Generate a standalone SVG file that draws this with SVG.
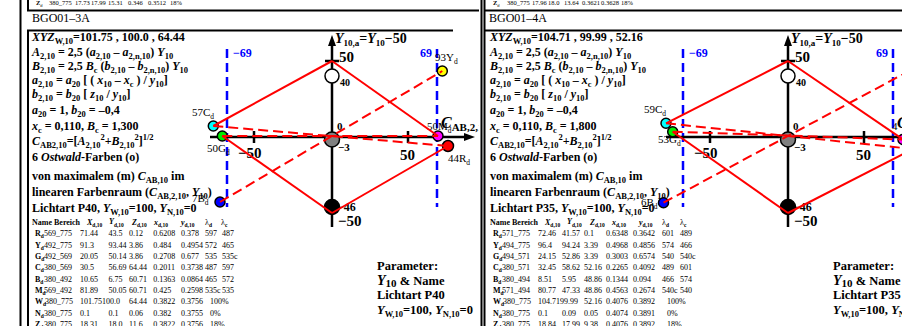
<svg xmlns="http://www.w3.org/2000/svg" width="902" height="326" viewBox="0 0 902 326">
<style>
text{font-family:"Liberation Serif","Times New Roman",serif;fill:#000}
.t{font-weight:bold;font-size:12px}
.i{font-style:italic}
.s{font-size:8.5px}
.tb{font-size:8px}
.tt{font-size:6.5px}
.hd{font-size:8px;font-weight:bold}
.sx{font-size:5.5px;font-weight:bold}
.lb{font-size:11px}
.ls{font-size:7.5px}
.an{font-weight:bold;font-size:15px}
.am{font-weight:bold;font-size:11px}
.bl{font-weight:bold;font-size:12px;fill:#00f}
.pa{font-weight:bold;font-size:12.5px}
.fr{stroke:#000;stroke-width:2;fill:none}
.ax{stroke:#000;stroke-width:2.5;fill:none}
.rs{stroke:#f00;stroke-width:2;fill:none}
.rd{stroke:#f00;stroke-width:2;stroke-dasharray:10,5;fill:none}
.bd{stroke:#00f;stroke-width:2.5;stroke-dasharray:9,5;fill:none}
.c{stroke:#000;stroke-width:1.5}
</style>
<rect width="902" height="326" fill="#fff"/>

<!-- ================= LEFT PANEL ================= -->
<g id="left-frame">
<line x1="20.5" y1="0" x2="20.5" y2="326" class="fr"/>
<polyline points="28,0 28,10.5 481,10.5" class="fr"/>
<polyline points="453,30.5 28,30.5 28,326" class="fr"/>
<text class="tt" y="4.5"><tspan x="36" font-weight="bold">Z</tspan><tspan font-size="4.5" dy="2">d</tspan><tspan x="49" dy="-2">380_775</tspan><tspan x="75">17.73</tspan><tspan x="91">17.99</tspan><tspan x="108">15.31</tspan><tspan x="128">0.346</tspan><tspan x="148">0.3512</tspan><tspan x="170">18%</tspan></text>
<text x="32" y="21.5" font-size="12">BGO01–3A</text>
</g>

<g id="left-formulas" class="t">
<text x="32" y="41"><tspan class="i">XYZ</tspan><tspan class="s" dy="3">W,10</tspan><tspan dy="-3">=101.75 , 100.0 , 64.44</tspan></text>
<text x="32" y="55.5"><tspan class="i">A</tspan><tspan class="s" dy="3">2,10</tspan><tspan dy="-3"> = 2,5 (</tspan><tspan class="i">a</tspan><tspan class="s" dy="3">2,10</tspan><tspan dy="-3"> – </tspan><tspan class="i">a</tspan><tspan class="s" dy="3">2,n,10</tspan><tspan dy="-3">) </tspan><tspan class="i">Y</tspan><tspan class="s" dy="3">10</tspan></text>
<text x="32" y="70"><tspan class="i">B</tspan><tspan class="s" dy="3">2,10</tspan><tspan dy="-3"> = 2,5 </tspan><tspan class="i">B</tspan><tspan class="s" dy="3">c</tspan><tspan dy="-3"> (</tspan><tspan class="i">b</tspan><tspan class="s" dy="3">2,10</tspan><tspan dy="-3"> – </tspan><tspan class="i">b</tspan><tspan class="s" dy="3">2,n,10</tspan><tspan dy="-3">) </tspan><tspan class="i">Y</tspan><tspan class="s" dy="3">10</tspan></text>
<text x="32" y="84"><tspan class="i">a</tspan><tspan class="s" dy="3">2,10</tspan><tspan dy="-3"> = </tspan><tspan class="i">a</tspan><tspan class="s" dy="3">20</tspan><tspan dy="-3"> [ ( </tspan><tspan class="i">x</tspan><tspan class="s" dy="3">10</tspan><tspan dy="-3"> – </tspan><tspan class="i">x</tspan><tspan class="s" dy="3">c</tspan><tspan dy="-3"> ) / </tspan><tspan class="i">y</tspan><tspan class="s" dy="3">10</tspan><tspan dy="-3">]</tspan></text>
<text x="32" y="98"><tspan class="i">b</tspan><tspan class="s" dy="3">2,10</tspan><tspan dy="-3"> = </tspan><tspan class="i">b</tspan><tspan class="s" dy="3">20</tspan><tspan dy="-3"> [ </tspan><tspan class="i">z</tspan><tspan class="s" dy="3">10</tspan><tspan dy="-3"> / </tspan><tspan class="i">y</tspan><tspan class="s" dy="3">10</tspan><tspan dy="-3">]</tspan></text>
<text x="32" y="114"><tspan class="i">a</tspan><tspan class="s" dy="3">20</tspan><tspan dy="-3"> = 1,  </tspan><tspan class="i">b</tspan><tspan class="s" dy="3">20</tspan><tspan dy="-3"> = –0,4</tspan></text>
<text x="32" y="130"><tspan class="i">x</tspan><tspan class="s" dy="3">c</tspan><tspan dy="-3"> = 0,110,  </tspan><tspan class="i">B</tspan><tspan class="s" dy="3">c</tspan><tspan dy="-3"> = 1,300</tspan></text>
<text x="32" y="145"><tspan class="i">C</tspan><tspan class="s" dy="3">AB2,10</tspan><tspan dy="-3">=[</tspan><tspan class="i">A</tspan><tspan class="s" dy="3">2,10</tspan><tspan class="s" dy="-8">2</tspan><tspan dy="5">+</tspan><tspan class="i">B</tspan><tspan class="s" dy="3">2,10</tspan><tspan class="s" dy="-8">2</tspan><tspan dy="5">]</tspan><tspan class="s" dy="-5">1/2</tspan></text>
<text x="32" y="161">6 <tspan class="i">Ostwald</tspan>-Farben (o)</text>
<text x="32" y="180">von maximalem (m) <tspan class="i">C</tspan><tspan class="s" dy="3">AB,10</tspan><tspan dy="-3"> im</tspan></text>
<text x="32" y="196">linearen Farbenraum (<tspan class="i">C</tspan><tspan class="s" dy="3">AB,2,10</tspan><tspan dy="-3">, </tspan><tspan class="i">Y</tspan><tspan class="s" dy="3">10</tspan><tspan dy="-3">)</tspan></text>
<text x="32" y="212">Lichtart P40, <tspan class="i">Y</tspan><tspan class="s" dy="3">W,10</tspan><tspan dy="-3">=100, </tspan><tspan class="i">Y</tspan><tspan class="s" dy="3">N,10</tspan><tspan dy="-3">=0</tspan></text>
</g>

<g id="left-table" class="tb">
<text class="hd" y="225"><tspan x="32">Name Bereich</tspan><tspan x="87" class="i">X</tspan><tspan class="sx" dy="2">d,10</tspan><tspan x="109" dy="-3" class="i">Y</tspan><tspan class="sx" dy="3">d,10</tspan><tspan x="132" dy="-2" class="i">Z</tspan><tspan class="sx" dy="2">d,10</tspan><tspan x="154" dy="-2" class="i">x</tspan><tspan class="sx" dy="2">d,10</tspan><tspan x="181" dy="-2" class="i">y</tspan><tspan class="sx" dy="2">d,10</tspan><tspan x="205" dy="-2" font-weight="normal">λ</tspan><tspan class="sx" dy="2">d</tspan><tspan x="221" dy="-2" font-weight="normal">λ</tspan><tspan class="sx" dy="2">c</tspan></text>
<text y="236"><tspan x="35" font-weight="bold">R</tspan><tspan class="sx" dy="2">d</tspan><tspan x="44" dy="-2">569_775</tspan><tspan x="80">71.44</tspan><tspan x="108.5">43.5</tspan><tspan x="129">0.12</tspan><tspan x="153.3">0.6208</tspan><tspan x="181">0.378</tspan><tspan x="205">597</tspan><tspan x="222">487</tspan></text>
<text y="247.5"><tspan x="35" font-weight="bold">Y</tspan><tspan class="sx" dy="2">d</tspan><tspan x="44" dy="-2">492_775</tspan><tspan x="80">91.3</tspan><tspan x="108.5">93.44</tspan><tspan x="129">3.86</tspan><tspan x="153.3">0.484</tspan><tspan x="181">0.4954</tspan><tspan x="205">572</tspan><tspan x="222">465</tspan></text>
<text y="259"><tspan x="35" font-weight="bold">G</tspan><tspan class="sx" dy="2">d</tspan><tspan x="44" dy="-2">492_569</tspan><tspan x="80">20.05</tspan><tspan x="108.5">50.14</tspan><tspan x="129">3.86</tspan><tspan x="153.3">0.2708</tspan><tspan x="181">0.677</tspan><tspan x="205">535</tspan><tspan x="222">535c</tspan></text>
<text y="270.3"><tspan x="35" font-weight="bold">C</tspan><tspan class="sx" dy="2">d</tspan><tspan x="44" dy="-2">380_569</tspan><tspan x="80">30.5</tspan><tspan x="108.5">56.69</tspan><tspan x="129">64.44</tspan><tspan x="153.3">0.2011</tspan><tspan x="181">0.3738</tspan><tspan x="205">487</tspan><tspan x="222">597</tspan></text>
<text y="281.7"><tspan x="35" font-weight="bold">B</tspan><tspan class="sx" dy="2">d</tspan><tspan x="44" dy="-2">380_492</tspan><tspan x="80">10.65</tspan><tspan x="108.5">6.75</tspan><tspan x="129">60.71</tspan><tspan x="153.3">0.1363</tspan><tspan x="181">0.0864</tspan><tspan x="205">465</tspan><tspan x="222">572</tspan></text>
<text y="293"><tspan x="35" font-weight="bold">M</tspan><tspan class="sx" dy="2">d</tspan><tspan x="44" dy="-2">569_492</tspan><tspan x="80">81.89</tspan><tspan x="108.5">50.05</tspan><tspan x="129">60.71</tspan><tspan x="153.3">0.425</tspan><tspan x="181">0.2598</tspan><tspan x="205">535c</tspan><tspan x="222">535</tspan></text>
<text y="304.3"><tspan x="35" font-weight="bold">W</tspan><tspan class="sx" dy="2">d</tspan><tspan x="45" dy="-2">380_775</tspan><tspan x="80">101.75100.0</tspan><tspan x="129">64.44</tspan><tspan x="153.3">0.3822</tspan><tspan x="181">0.3756</tspan><tspan x="210">100%</tspan></text>
<text y="315.7"><tspan x="35" font-weight="bold">N</tspan><tspan class="sx" dy="2">d</tspan><tspan x="44" dy="-2">380_775</tspan><tspan x="80">0.1</tspan><tspan x="108.5">0.1</tspan><tspan x="129">0.06</tspan><tspan x="153.3">0.382</tspan><tspan x="181">0.3755</tspan><tspan x="210">0%</tspan></text>
<text y="327"><tspan x="35" font-weight="bold">Z</tspan><tspan class="sx" dy="2">d</tspan><tspan x="44" dy="-2">380_775</tspan><tspan x="80">18.31</tspan><tspan x="108.5">18.0</tspan><tspan x="129">11.6</tspan><tspan x="153.3">0.3822</tspan><tspan x="181">0.3756</tspan><tspan x="210">18%</tspan></text>
</g>

<g id="left-axes">
<line x1="227" y1="49" x2="227" y2="207" class="bd"/>
<line x1="437" y1="49" x2="437" y2="207" class="bd"/>
<text class="bl" x="233" y="57">−69</text>
<text class="bl" x="420" y="57">69</text>
<line x1="332" y1="227" x2="332" y2="44" class="ax"/>
<polygon points="332,35 328,46 336,46" fill="#000"/>
<line x1="210" y1="137" x2="466" y2="137" class="ax"/>
<polygon points="475,137 464,133 464,141" fill="#000"/>
<line x1="325" y1="61" x2="339" y2="61" class="ax"/>
<line x1="254" y1="131" x2="254" y2="143" class="ax"/>
<line x1="408" y1="131" x2="408" y2="143" class="ax"/>
<text x="335" y="43" font-weight="bold" font-size="14"><tspan class="i">Y</tspan><tspan font-size="9" dy="3">10,a</tspan><tspan dy="-3">=</tspan><tspan class="i">Y</tspan><tspan font-size="9" dy="3">10</tspan><tspan dy="-3">−50</tspan></text>
<text class="an" x="339" y="62">50</text>
<text x="340" y="86" font-weight="bold" font-size="10">40</text>
<text class="am" x="337" y="130">0</text>
<text class="am" x="338" y="151">−3</text>
<text class="an" x="238" y="158">−50</text>
<text class="an" x="400" y="160">50</text>
<text x="337" y="211" font-weight="bold" font-size="12">−46</text>
<text class="an" x="338" y="226">−50</text>
<text x="441" y="128" font-weight="bold" font-size="16"><tspan class="i">C</tspan><tspan font-size="11" dy="3">AB,2,10</tspan></text>
</g>

<g id="left-W"><circle cx="332" cy="76" r="7" fill="#fff" class="c"/></g>
<g id="left-Z"><circle cx="332" cy="139.5" r="7.5" fill="#808080" class="c"/></g>
<g id="left-N"><circle cx="332" cy="207" r="7.5" fill="#000" class="c"/></g>
<g id="left-Yd"><circle cx="442.3" cy="71" r="5" fill="#ff0" class="c"/><text class="lb" x="435" y="61">93Y<tspan class="ls" dy="3">d</tspan></text></g>
<g id="left-Cd"><circle cx="213.3" cy="126" r="5" fill="#0ff" class="c"/><text class="lb" x="192" y="116">57C<tspan class="ls" dy="3">d</tspan></text></g>
<g id="left-Gd"><circle cx="222.3" cy="136" r="5" fill="#0e0" class="c"/><text class="lb" x="207" y="152">50G<tspan class="ls" dy="3">d</tspan></text></g>
<g id="left-Md"><circle cx="438" cy="136" r="5" fill="#f0f" class="c"/><text class="lb" x="427" y="130">50M<tspan class="ls" dy="3">d</tspan></text></g>
<g id="left-Rd"><circle cx="448" cy="146" r="5.5" fill="#f00" class="c"/><text class="lb" x="448" y="162">44R<tspan class="ls" dy="3">d</tspan></text></g>
<g id="left-Bd"><circle cx="220" cy="202" r="5" fill="#00f" class="c"/><text class="lb" x="192" y="202">7B<tspan class="ls" dy="3">d</tspan></text></g>

<g id="left-connectors">
<line x1="332" y1="61" x2="213.3" y2="126" class="rs"/>
<line x1="222.3" y1="136" x2="332" y2="213" class="rs"/>
<line x1="332" y1="61" x2="438" y2="136" class="rs"/>
<line x1="448" y1="146" x2="332" y2="213" class="rs"/>
<line x1="213.3" y1="126" x2="448" y2="146" class="rd"/>
<line x1="222.3" y1="136" x2="438" y2="136" class="rd"/>
<line x1="220" y1="202" x2="442.3" y2="71" class="rd"/>
</g>

<g id="left-parameter" class="pa">
<text x="377" y="270">Parameter:</text>
<text x="377" y="284.5"><tspan class="i" font-size="14">Y</tspan><tspan font-size="11" dy="2">10</tspan><tspan dy="-2"> &amp; Name</tspan></text>
<text x="377" y="299">Lichtart P40</text>
<text x="377" y="313.5"><tspan class="i">Y</tspan><tspan class="s" dy="3">W,10</tspan><tspan dy="-3">=100, </tspan><tspan class="i">Y</tspan><tspan class="s" dy="3">N,10</tspan><tspan dy="-3">=0</tspan></text>
</g>

<!-- ================= RIGHT PANEL ================= -->
<rect x="479" y="0" width="423" height="326" fill="#fff"/>
<g id="right-frame">
<line x1="481.5" y1="0" x2="481.5" y2="326" class="fr"/>
<line x1="484.5" y1="0" x2="484.5" y2="326" class="fr"/>
<line x1="484" y1="10.5" x2="902" y2="10.5" class="fr"/>
<line x1="484" y1="30.5" x2="902" y2="30.5" class="fr"/>
<text class="tt" y="4.5"><tspan x="493" font-weight="bold">Z</tspan><tspan font-size="4.5" dy="2">d</tspan><tspan x="507" dy="-2">380_775</tspan><tspan x="532">17.96</tspan><tspan x="548">18.0</tspan><tspan x="564">13.64</tspan><tspan x="582">0.3621</tspan><tspan x="601">0.3628</tspan><tspan x="621">18%</tspan></text>
<text x="489" y="21.5" font-size="12">BGO01–4A</text>
</g>

<g id="right-formulas" class="t">
<text x="490" y="41"><tspan class="i">XYZ</tspan><tspan class="s" dy="3">W,10</tspan><tspan dy="-3">=104.71 , 99.99 , 52.16</tspan></text>
<text x="490" y="55.5"><tspan class="i">A</tspan><tspan class="s" dy="3">2,10</tspan><tspan dy="-3"> = 2,5 (</tspan><tspan class="i">a</tspan><tspan class="s" dy="3">2,10</tspan><tspan dy="-3"> – </tspan><tspan class="i">a</tspan><tspan class="s" dy="3">2,n,10</tspan><tspan dy="-3">) </tspan><tspan class="i">Y</tspan><tspan class="s" dy="3">10</tspan></text>
<text x="490" y="70"><tspan class="i">B</tspan><tspan class="s" dy="3">2,10</tspan><tspan dy="-3"> = 2,5 </tspan><tspan class="i">B</tspan><tspan class="s" dy="3">c</tspan><tspan dy="-3"> (</tspan><tspan class="i">b</tspan><tspan class="s" dy="3">2,10</tspan><tspan dy="-3"> – </tspan><tspan class="i">b</tspan><tspan class="s" dy="3">2,n,10</tspan><tspan dy="-3">) </tspan><tspan class="i">Y</tspan><tspan class="s" dy="3">10</tspan></text>
<text x="490" y="84"><tspan class="i">a</tspan><tspan class="s" dy="3">2,10</tspan><tspan dy="-3"> = </tspan><tspan class="i">a</tspan><tspan class="s" dy="3">20</tspan><tspan dy="-3"> [ ( </tspan><tspan class="i">x</tspan><tspan class="s" dy="3">10</tspan><tspan dy="-3"> – </tspan><tspan class="i">x</tspan><tspan class="s" dy="3">c</tspan><tspan dy="-3"> ) / </tspan><tspan class="i">y</tspan><tspan class="s" dy="3">10</tspan><tspan dy="-3">]</tspan></text>
<text x="490" y="98"><tspan class="i">b</tspan><tspan class="s" dy="3">2,10</tspan><tspan dy="-3"> = </tspan><tspan class="i">b</tspan><tspan class="s" dy="3">20</tspan><tspan dy="-3"> [ </tspan><tspan class="i">z</tspan><tspan class="s" dy="3">10</tspan><tspan dy="-3"> / </tspan><tspan class="i">y</tspan><tspan class="s" dy="3">10</tspan><tspan dy="-3">]</tspan></text>
<text x="490" y="114"><tspan class="i">a</tspan><tspan class="s" dy="3">20</tspan><tspan dy="-3"> = 1,  </tspan><tspan class="i">b</tspan><tspan class="s" dy="3">20</tspan><tspan dy="-3"> = –0,4</tspan></text>
<text x="490" y="130"><tspan class="i">x</tspan><tspan class="s" dy="3">c</tspan><tspan dy="-3"> = 0,110,  </tspan><tspan class="i">B</tspan><tspan class="s" dy="3">c</tspan><tspan dy="-3"> = 1,800</tspan></text>
<text x="490" y="145"><tspan class="i">C</tspan><tspan class="s" dy="3">AB2,10</tspan><tspan dy="-3">=[</tspan><tspan class="i">A</tspan><tspan class="s" dy="3">2,10</tspan><tspan class="s" dy="-8">2</tspan><tspan dy="5">+</tspan><tspan class="i">B</tspan><tspan class="s" dy="3">2,10</tspan><tspan class="s" dy="-8">2</tspan><tspan dy="5">]</tspan><tspan class="s" dy="-5">1/2</tspan></text>
<text x="490" y="161">6 <tspan class="i">Ostwald</tspan>-Farben (o)</text>
<text x="490" y="180">von maximalem (m) <tspan class="i">C</tspan><tspan class="s" dy="3">AB,10</tspan><tspan dy="-3"> im</tspan></text>
<text x="490" y="196">linearen Farbenraum (<tspan class="i">C</tspan><tspan class="s" dy="3">AB,2,10</tspan><tspan dy="-3">, </tspan><tspan class="i">Y</tspan><tspan class="s" dy="3">10</tspan><tspan dy="-3">)</tspan></text>
<text x="490" y="212">Lichtart P35, <tspan class="i">Y</tspan><tspan class="s" dy="3">W,10</tspan><tspan dy="-3">=100, </tspan><tspan class="i">Y</tspan><tspan class="s" dy="3">N,10</tspan><tspan dy="-3">=0</tspan></text>
</g>

<g id="right-table" class="tb">
<text class="hd" y="225"><tspan x="490">Name Bereich</tspan><tspan x="545" class="i">X</tspan><tspan class="sx" dy="2">d,10</tspan><tspan x="567" dy="-3" class="i">Y</tspan><tspan class="sx" dy="3">d,10</tspan><tspan x="590" dy="-2" class="i">Z</tspan><tspan class="sx" dy="2">d,10</tspan><tspan x="612" dy="-2" class="i">x</tspan><tspan class="sx" dy="2">d,10</tspan><tspan x="639" dy="-2" class="i">y</tspan><tspan class="sx" dy="2">d,10</tspan><tspan x="662" dy="-2" font-weight="normal">λ</tspan><tspan class="sx" dy="2">d</tspan><tspan x="680" dy="-2" font-weight="normal">λ</tspan><tspan class="sx" dy="2">c</tspan></text>
<text y="236"><tspan x="493" font-weight="bold">R</tspan><tspan class="sx" dy="2">d</tspan><tspan x="502" dy="-2">571_775</tspan><tspan x="538">72.46</tspan><tspan x="562">41.57</tspan><tspan x="584">0.1</tspan><tspan x="606">0.6348</tspan><tspan x="633">0.3642</tspan><tspan x="662">601</tspan><tspan x="680">489</tspan></text>
<text y="247.5"><tspan x="493" font-weight="bold">Y</tspan><tspan class="sx" dy="2">d</tspan><tspan x="502" dy="-2">494_775</tspan><tspan x="538">96.4</tspan><tspan x="562">94.24</tspan><tspan x="584">3.39</tspan><tspan x="606">0.4968</tspan><tspan x="633">0.4856</tspan><tspan x="662">574</tspan><tspan x="680">466</tspan></text>
<text y="259"><tspan x="493" font-weight="bold">G</tspan><tspan class="sx" dy="2">d</tspan><tspan x="502" dy="-2">494_571</tspan><tspan x="538">24.15</tspan><tspan x="562">52.86</tspan><tspan x="584">3.39</tspan><tspan x="606">0.3003</tspan><tspan x="633">0.6574</tspan><tspan x="662">540</tspan><tspan x="680">540c</tspan></text>
<text y="270.3"><tspan x="493" font-weight="bold">C</tspan><tspan class="sx" dy="2">d</tspan><tspan x="502" dy="-2">380_571</tspan><tspan x="538">32.45</tspan><tspan x="562">58.62</tspan><tspan x="584">52.16</tspan><tspan x="606">0.2265</tspan><tspan x="633">0.4092</tspan><tspan x="662">489</tspan><tspan x="680">601</tspan></text>
<text y="281.7"><tspan x="493" font-weight="bold">B</tspan><tspan class="sx" dy="2">d</tspan><tspan x="502" dy="-2">380_494</tspan><tspan x="538">8.51</tspan><tspan x="562">5.95</tspan><tspan x="584">48.86</tspan><tspan x="606">0.1344</tspan><tspan x="633">0.094</tspan><tspan x="662">466</tspan><tspan x="680">574</tspan></text>
<text y="293"><tspan x="493" font-weight="bold">M</tspan><tspan class="sx" dy="2">d</tspan><tspan x="502" dy="-2">571_494</tspan><tspan x="538">80.77</tspan><tspan x="562">47.33</tspan><tspan x="584">48.86</tspan><tspan x="606">0.4563</tspan><tspan x="633">0.2674</tspan><tspan x="662">540c</tspan><tspan x="680">540</tspan></text>
<text y="304.3"><tspan x="493" font-weight="bold">W</tspan><tspan class="sx" dy="2">d</tspan><tspan x="503" dy="-2">380_775</tspan><tspan x="538">104.7199.99</tspan><tspan x="584">52.16</tspan><tspan x="606">0.4076</tspan><tspan x="633">0.3892</tspan><tspan x="667">100%</tspan></text>
<text y="315.7"><tspan x="493" font-weight="bold">N</tspan><tspan class="sx" dy="2">d</tspan><tspan x="502" dy="-2">380_775</tspan><tspan x="538">0.1</tspan><tspan x="562">0.09</tspan><tspan x="584">0.05</tspan><tspan x="606">0.4074</tspan><tspan x="633">0.3891</tspan><tspan x="667">0%</tspan></text>
<text y="327"><tspan x="493" font-weight="bold">Z</tspan><tspan class="sx" dy="2">d</tspan><tspan x="502" dy="-2">380_775</tspan><tspan x="538">18.84</tspan><tspan x="562">17.99</tspan><tspan x="584">9.38</tspan><tspan x="606">0.4076</tspan><tspan x="633">0.3892</tspan><tspan x="667">18%</tspan></text>
</g>

<g id="right-axes">
<line x1="683" y1="49" x2="683" y2="207" class="bd"/>
<line x1="893" y1="49" x2="893" y2="207" class="bd"/>
<text class="bl" x="689" y="57">−69</text>
<text class="bl" x="876" y="57">69</text>
<line x1="788" y1="227" x2="788" y2="44" class="ax"/>
<polygon points="788,35 784,46 792,46" fill="#000"/>
<line x1="666" y1="137" x2="902" y2="137" class="ax"/>
<line x1="781" y1="61" x2="795" y2="61" class="ax"/>
<line x1="710" y1="131" x2="710" y2="143" class="ax"/>
<line x1="864" y1="131" x2="864" y2="143" class="ax"/>
<text x="791" y="43" font-weight="bold" font-size="14"><tspan class="i">Y</tspan><tspan font-size="9" dy="3">10,a</tspan><tspan dy="-3">=</tspan><tspan class="i">Y</tspan><tspan font-size="9" dy="3">10</tspan><tspan dy="-3">−50</tspan></text>
<text class="an" x="795" y="62">50</text>
<text x="796" y="86" font-weight="bold" font-size="10">40</text>
<text class="am" x="793" y="130">0</text>
<text class="am" x="794" y="151">−3</text>
<text class="an" x="694" y="158">−50</text>
<text class="an" x="856" y="160">50</text>
<text x="793" y="211" font-weight="bold" font-size="12">−46</text>
<text class="an" x="794" y="226">−50</text>
<text x="897" y="128" font-weight="bold" font-size="16"><tspan class="i">C</tspan></text>
</g>

<g id="right-W"><circle cx="788" cy="76" r="7" fill="#fff" class="c"/></g>
<g id="right-Z"><circle cx="788" cy="139.5" r="7.5" fill="#808080" class="c"/></g>
<g id="right-N"><circle cx="788" cy="207" r="7.5" fill="#000" class="c"/></g>
<g id="right-Cd"><circle cx="666" cy="123.3" r="5" fill="#0ff" class="c"/><text class="lb" x="644" y="113">59C<tspan class="ls" dy="3">d</tspan></text></g>
<g id="right-Gd"><circle cx="672.7" cy="131.7" r="5" fill="#0e0" class="c"/><text class="lb" x="658" y="143">53G<tspan class="ls" dy="3">d</tspan></text></g>
<g id="right-Md"><circle cx="903" cy="139.5" r="5" fill="#f0f" class="c"/><text class="lb" x="892" y="130">4</text></g>
<g id="right-Bd"><circle cx="663.5" cy="202.7" r="5" fill="#00f" class="c"/><text class="lb" x="641" y="206">6B<tspan class="ls" dy="3">d</tspan></text></g>

<g id="right-connectors">
<line x1="788" y1="61" x2="666" y2="123.3" class="rs"/>
<line x1="672.7" y1="131.7" x2="788" y2="213" class="rs"/>
<line x1="788" y1="61" x2="903" y2="139.5" class="rs"/>
<line x1="913" y1="149" x2="788" y2="213" class="rs"/>
<line x1="666" y1="123.3" x2="913" y2="149" class="rd"/>
<line x1="672.7" y1="131.7" x2="903" y2="139.5" class="rd"/>
<line x1="663.5" y1="202.7" x2="911" y2="70" class="rd"/>
</g>

<g id="right-parameter" class="pa">
<text x="833" y="270">Parameter:</text>
<text x="833" y="284.5"><tspan class="i" font-size="14">Y</tspan><tspan font-size="11" dy="2">10</tspan><tspan dy="-2"> &amp; Name</tspan></text>
<text x="833" y="299">Lichtart P35</text>
<text x="833" y="313.5"><tspan class="i">Y</tspan><tspan class="s" dy="3">W,10</tspan><tspan dy="-3">=100, </tspan><tspan class="i">Y</tspan><tspan class="s" dy="3">N,10</tspan><tspan dy="-3">=0</tspan></text>
</g>
</svg>
